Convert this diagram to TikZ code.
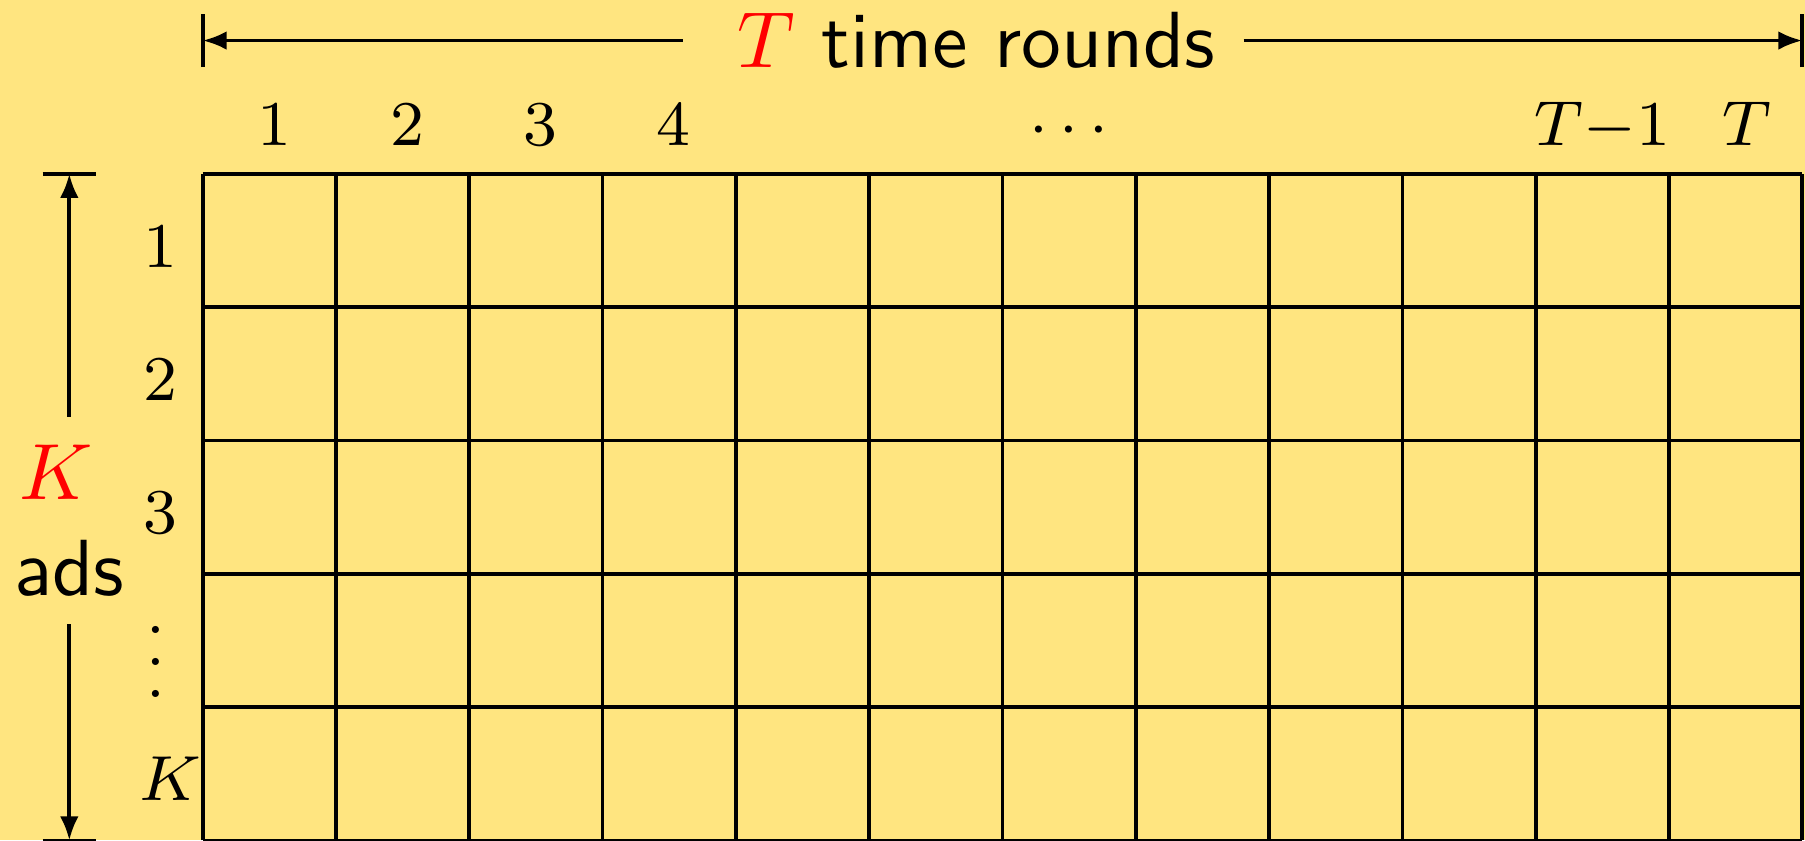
\documentclass[tikz,border=0pt]{standalone}
\usetikzlibrary{arrows.meta}
\definecolor{bg}{RGB}{255,229,128}
\begin{document}
\begin{tikzpicture}[
  gridline/.style={line width=0.8pt},
  dimline/.style={line width=0.8pt},
  tipend/.style={-{Latex[length=0.18cm,width=0.14cm]}},
  collabel/.style={font=\footnotesize, scale=1.7, anchor=base},
  rowlabel/.style={font=\footnotesize, scale=1.7, anchor=base},
  titlebox/.style={font=\normalsize\sffamily, scale=1.7, align=center},
]
\useasboundingbox[fill=bg] (-1.52,0) rectangle (12.02,6.304);
\draw[gridline] (0,0) grid (12,5);
% label positions
\coordinate (pc1) at (0.535,5.215);
\coordinate (pc2) at (1.535,5.215);
\coordinate (pc3) at (2.535,5.215);
\coordinate (pc4) at (3.535,5.215);
\coordinate (pc7) at (6.5,5.215);
\coordinate (pc11) at (10.5,5.215);
\coordinate (pc12) at (11.587,5.215);
\coordinate (pr1) at (-0.32,4.3);
\coordinate (pr2) at (-0.32,3.3);
\coordinate (pr3) at (-0.32,2.3);
\coordinate (pr4) at (-0.35,1.073);
\coordinate (pr5) at (-0.242,0.3);
\coordinate (ptt) at (3.601,6);
\coordinate (pka) at (-1,2.4);
% column labels
\node[collabel] (c1) at (pc1) {$1$};
\node[collabel] (c2) at (pc2) {$2$};
\node[collabel] (c3) at (pc3) {$3$};
\node[collabel] (c4) at (pc4) {$4$};
\node[collabel] (c7) at (pc7) {$\cdots$};
\node[collabel] (c11) at (pc11) {$T{-}1$};
\node[collabel] (c12) at (pc12) {$T$};
% row labels
\node[rowlabel] (r1) at (pr1) {$1$};
\node[rowlabel] (r2) at (pr2) {$2$};
\node[rowlabel] (r3) at (pr3) {$3$};
\node[rowlabel] (r4) at (pr4) {$\vdots$};
\node[rowlabel] (r5) at (pr5) {$K$};
% top dimension
\node[titlebox, anchor=west] (tt) at (ptt) {\hbox to 0.333em{}\textcolor{red}{$T$} time rounds};
\coordinate (tl) at (0,6);
\coordinate (tr) at (12,6);
\draw[dimline] (0,5.8) -- (0,6.2);
\draw[dimline] (12,5.8) -- (12,6.2);
\draw[dimline,tipend] (tt.west) -- (tl);
\draw[dimline,tipend] (tt.east) -- (tr);
% left dimension
\node[titlebox] (ka) at (pka) {\textcolor{red}{$K$}\hbox to 0.333em{}\\ads};
\coordinate (kt) at (-1,5);
\coordinate (kb) at (-1,0);
\draw[dimline] (-1.2,5) -- (-0.8,5);
\draw[dimline] (-1.2,0) -- (-0.8,0);
\draw[dimline,tipend] (ka.north) -- (kt);
\draw[dimline,tipend] (ka.south) -- (kb);
\end{tikzpicture}
\end{document}
